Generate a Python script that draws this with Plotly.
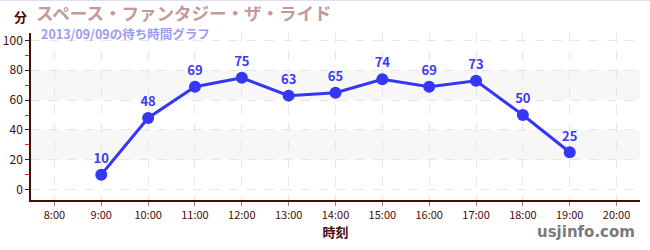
import plotly.graph_objects as go

hours = [9, 10, 11, 12, 13, 14, 15, 16, 17, 18, 19]
waits = [10, 48, 69, 75, 63, 65, 74, 69, 73, 50, 25]
tick_hours = list(range(8, 21))
tick_labels = [f"{h}:00" for h in tick_hours]
title = "スペース・ファンタジー・ザ・ライド"
subtitle = "2013/09/09の待ち時間グラフ"

JP = "Noto Sans CJK JP"
AX = "#4a0a0a"

fig = go.Figure()
fig.add_trace(go.Scatter(
    x=hours, y=waits, mode="lines+markers+text",
    line=dict(color="#3636f5", width=3),
    marker=dict(color="#3636f5", size=12),
    text=[str(v) for v in waits], textposition="top center",
    textfont=dict(family=JP, size=13, color="#3b3bf0", weight="bold"),
    cliponaxis=False, hoverinfo="skip",
))

shapes = []
for lo, hi in [(20, 40), (60, 80)]:
    shapes.append(dict(type="rect", xref="paper", yref="y", x0=0, x1=1, y0=lo, y1=hi,
                       fillcolor="#f7f7f7", line=dict(width=0), layer="below"))
shapes.append(dict(type="line", xref="paper", yref="paper", x0=-0.1, x1=1.1, y0=1.195, y1=1.195,
                   line=dict(color="#ddddf0", width=1)))

fig.update_layout(
    width=650, height=250,
    margin=dict(l=31, r=10, t=33, b=50),
    paper_bgcolor="white", plot_bgcolor="white",
    showlegend=False,
    shapes=shapes,
    xaxis=dict(
        range=[7.5, 20.5], tickmode="array", tickvals=tick_hours, ticktext=tick_labels,
        showgrid=True, gridcolor="#e6e6e6", griddash="dash", gridwidth=1,
        showline=True, linecolor=AX, linewidth=1.5,
        ticks="outside", ticklen=4, tickcolor="#888888",
        tickfont=dict(family="Liberation Sans Narrow, " + JP, size=11, color=AX),
        title=dict(text="時刻", font=dict(family=JP, size=13, color=AX, weight="bold"), standoff=6),
        zeroline=False, automargin=False,
    ),
    yaxis=dict(
        range=[-7, 105], tickmode="array", tickvals=[0, 20, 40, 60, 80, 100],
        showgrid=True, gridcolor="#e6e6e6", griddash="dash", gridwidth=1,
        showline=True, linecolor=AX, linewidth=1.5,
        ticks="outside", ticklen=4, tickcolor="#222222",
        minor=dict(tickmode="array", tickvals=[10, 30, 50, 70, 90], ticks="outside",
                   ticklen=4, tickcolor="#dd2222", showgrid=False),
        tickfont=dict(family="Liberation Sans Narrow, " + JP, size=12, color=AX),
        zeroline=False, automargin=False,
    ),
    annotations=[
        dict(text="分", xref="paper", yref="paper", x=-0.031, y=1.096, xanchor="left", yanchor="middle",
             showarrow=False, font=dict(family=JP, size=13, color=AX, weight="bold")),
        dict(text=title, xref="paper", yref="paper", x=0.005, y=1.125, xanchor="left", yanchor="middle",
             showarrow=False, font=dict(family=JP, size=17.5, color="#c4999b", weight="bold")),
        dict(text=subtitle, xref="paper", yref="paper", x=0.013, y=0.998, xanchor="left", yanchor="middle",
             showarrow=False, font=dict(family=JP, size=12.5, color="#9c9cf0", weight="bold")),
        dict(text="usjinfo.com", xref="paper", yref="paper", x=0.995, y=-0.19, xanchor="right", yanchor="middle",
             showarrow=False, font=dict(family="DejaVu Sans, " + JP, size=15, color="#7a7a7a", weight="bold")),
    ],
)

fig.write_html("out.html")
